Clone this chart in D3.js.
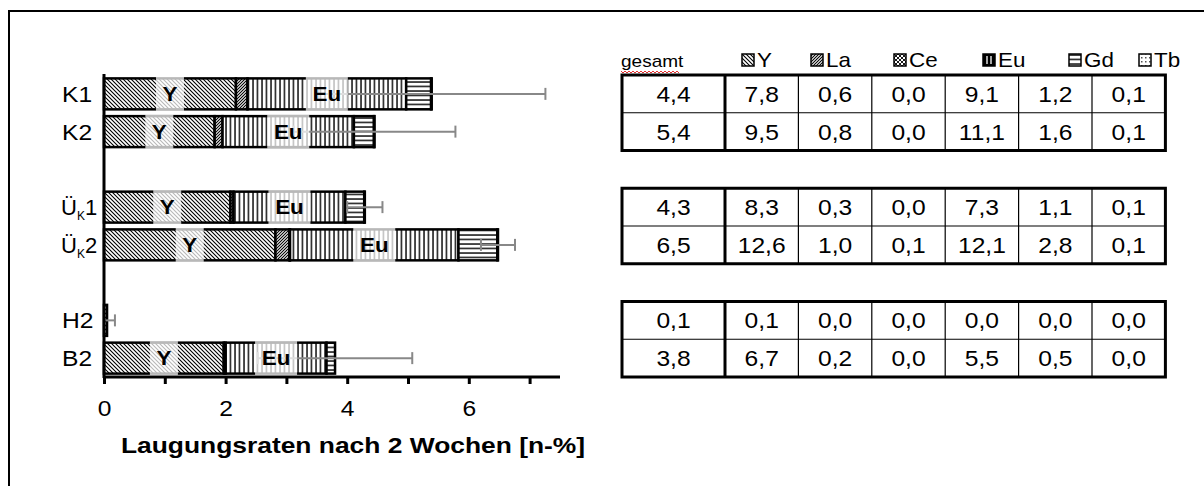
<!DOCTYPE html>
<html lang="de">
<head>
<meta charset="utf-8">
<title>Laugungsraten</title>
<script src="https://d3js.org/d3.v7.min.js"></script>
<style>
  body { margin: 0; background: #fff; }
  svg { display: block; font-family: "Liberation Sans", Arial, sans-serif; }
</style>
</head>
<body>
<script>
// categories of the band axis (gap entries = empty slots between groups)
var categories = ["K1", "K2", "gap1", "UK1", "UK2", "gap2", "H2", "B2"];
var samples = ["K1", "K2", "UK1", "UK2", "H2", "B2"];
var elements = ["Y", "La", "Ce", "Eu", "Gd", "Tb"];

// stacked leaching rates [n-%]
var valY  = [2.17, 1.82, 2.08, 2.82, 0.05, 1.97];
var valLa = [0.19, 0.13, 0.05, 0.23, 0.00, 0.03];
var valCe = [0.00, 0.00, 0.00, 0.01, 0.00, 0.00];
var valEu = [2.61, 2.16, 1.84, 2.77, 0.00, 1.66];
var valGd = [0.41, 0.33, 0.31, 0.64, 0.00, 0.14];
var valTb = [0.01, 0.01, 0.01, 0.01, 0.00, 0.00];
var errors = [1.87, 1.33, 0.29, 0.28, 0.13, 1.27];

// table on the right
var tabGesamt = [4.4, 5.4, 4.3, 6.5, 0.1, 3.8];
var tabY  = [7.8, 9.5, 8.3, 12.6, 0.1, 6.7];
var tabLa = [0.6, 0.8, 0.3, 1.0, 0.0, 0.2];
var tabCe = [0.0, 0.0, 0.0, 0.1, 0.0, 0.0];
var tabEu = [9.1, 11.1, 7.3, 12.1, 0.0, 5.5];
var tabGd = [1.2, 1.6, 1.1, 2.8, 0.0, 0.5];
var tabTb = [0.1, 0.1, 0.1, 0.1, 0.0, 0.0];

var xTicks = [0, 1, 2, 3, 4, 5, 6, 7];
var xTickLabels = ["0", "", "2", "", "4", "", "6", ""];
var axisTitle = "Laugungsraten nach 2 Wochen [n-%]";

var width = 1204, height = 486;
var SX = 1.12;            // text in the picture is a bit stretched
var fontSize = 22;

var svg = d3.select("body").append("svg")
    .attr("width", width)
    .attr("height", height);

// hatch patterns
var defs = svg.append("defs");
function pattern(id, w, h, draw) {
    var p = defs.append("pattern")
        .attr("id", id)
        .attr("patternUnits", "userSpaceOnUse")
        .attr("width", w).attr("height", h);
    p.append("rect").attr("width", w).attr("height", h).attr("fill", "#fff");
    draw(p);
}
pattern("p-Y", 4, 4, function (p) {
    p.append("path").attr("d", "M0,0L4,4M-1,3L1,5M3,-1L5,1")
        .attr("stroke", "#000").attr("stroke-width", 1.1);
});
pattern("p-La", 3, 3, function (p) {
    p.append("path").attr("d", "M0,3L3,0M-1,1L1,-1M2,4L4,2")
        .attr("stroke", "#000").attr("stroke-width", 1.1);
});
pattern("p-Ce", 4, 4, function (p) {
    p.append("path").attr("d", "M0,0L4,4M0,4L4,0")
        .attr("stroke", "#000").attr("stroke-width", 0.9);
});
pattern("p-Eu", 4.5, 4, function (p) {
    p.append("path").attr("d", "M1,0L1,4")
        .attr("stroke", "#000").attr("stroke-width", 1.4);
});
pattern("p-Gd", 4, 4.5, function (p) {
    p.append("path").attr("d", "M0,1L4,1")
        .attr("stroke", "#000").attr("stroke-width", 1.4);
});
pattern("p-Tb", 4, 4, function (p) {
    p.append("rect").attr("x", 1).attr("y", 1).attr("width", 1.5).attr("height", 1.5)
        .attr("fill", "#555");
});

// outer frame (right/bottom run off the picture)
svg.append("rect")
    .attr("x", 9).attr("y", 11)
    .attr("width", 1210).attr("height", 490)
    .attr("fill", "none").attr("stroke", "#000").attr("stroke-width", 2);

// scales
var x = d3.scaleLinear().domain([0, 7.5]).range([104, 560]);
var y = d3.scaleBand().domain(categories).range([75, 377])
    .paddingInner(0.18).paddingOuter(0.09);
var step = y.step(), bw = y.bandwidth();

function fmt(v) { return v.toFixed(1).replace(".", ","); }
function stretched(sel, tx, ty, s) {
    return sel.attr("transform", "translate(" + tx + "," + ty + ") scale(" + (s || SX) + ",1)");
}

// stacked data
var rows = samples.map(function (s, i) {
    return { cat: s, Y: valY[i], La: valLa[i], Ce: valCe[i], Eu: valEu[i], Gd: valGd[i], Tb: valTb[i], err: errors[i] };
});
var series = d3.stack().keys(elements)(rows);

var gBars = svg.append("g");
series.forEach(function (s) {
    gBars.selectAll(null)
        .data(s.filter(function (d) { return d[1] - d[0] > 0; }))
        .enter()
        .append("rect")
        .attr("x", function (d) { return x(d[0]); })
        .attr("y", function (d) { return y(d.data.cat); })
        .attr("width", function (d) { return x(d[1]) - x(d[0]); })
        .attr("height", bw)
        .attr("fill", "url(#p-" + s.key + ")")
        .attr("stroke", "#000")
        .attr("stroke-width", 2.5);
});

// error bars
var totals = rows.map(function (d) { return d.Y + d.La + d.Ce + d.Eu + d.Gd + d.Tb; });
var gErr = svg.append("g").attr("stroke", "#888").attr("stroke-width", 2);
rows.forEach(function (d, i) {
    var cy = y(d.cat) + bw / 2;
    var lo = Math.max(0, totals[i] - d.err), hi = totals[i] + d.err;
    gErr.append("line").attr("x1", x(lo)).attr("x2", x(hi)).attr("y1", cy).attr("y2", cy);
    if (totals[i] - d.err > 0)
        gErr.append("line").attr("x1", x(lo)).attr("x2", x(lo)).attr("y1", cy - 6).attr("y2", cy + 6);
    gErr.append("line").attr("x1", x(hi)).attr("x2", x(hi)).attr("y1", cy - 6).attr("y2", cy + 6);
});

// segment labels (Y and Eu) on a pale box
var labelKeys = ["Y", "Eu"];
var labelBox = { Y: 28, Eu: 42 };
series.filter(function (s) { return labelKeys.indexOf(s.key) >= 0; }).forEach(function (s) {
    s.forEach(function (d) {
        if (d[1] - d[0] < 0.5) return;
        var cx = (x(d[0]) + x(d[1])) / 2, top = y(d.data.cat);
        svg.append("rect")
            .attr("x", cx - labelBox[s.key] / 2).attr("y", top - 1.5)
            .attr("width", labelBox[s.key]).attr("height", bw + 3)
            .attr("fill", "#fff").attr("fill-opacity", 0.72);
        stretched(svg.append("text"), cx, top + bw / 2 + 7)
            .attr("text-anchor", "middle")
            .attr("font-size", 20).attr("font-weight", "bold")
            .text(s.key);
    });
});

// x axis
var xAxis = svg.append("g")
    .attr("transform", "translate(0," + 377 + ")")
    .call(d3.axisBottom(x).tickValues(xTicks)
        .tickFormat(function (d, i) { return xTickLabels[i]; })
        .tickSize(7).tickSizeOuter(0).tickPadding(16));
xAxis.select(".domain").attr("stroke-width", 3).attr("d", "M104,0H560");
xAxis.selectAll(".tick line").attr("stroke-width", 3);
xAxis.selectAll(".tick text")
    .attr("font-size", fontSize)
    .attr("font-family", "Liberation Sans, Arial, sans-serif")
    .attr("transform", "scale(" + SX + ",1)");

// y axis line
svg.append("line")
    .attr("x1", x(0)).attr("x2", x(0))
    .attr("y1", y.range()[0] - 1).attr("y2", y.range()[1] + 1)
    .attr("stroke", "#000").attr("stroke-width", 3);

// category labels
samples.forEach(function (s) {
    var t = svg.append("text").attr("font-size", fontSize);
    if (s.indexOf("UK") === 0) {
        stretched(t, 61, y(s) + bw / 2 + 8, 1.0);
        t.append("tspan").text("Ü");
        t.append("tspan").attr("font-size", 12).attr("dy", 5).text("K");
        t.append("tspan").attr("dy", -5).text(s.slice(2));
    } else {
        stretched(t, 62, y(s) + bw / 2 + 8);
        t.text(s);
    }
});

// axis title
stretched(svg.append("text"), 353, 453, 1.2)
    .attr("text-anchor", "middle")
    .attr("font-size", fontSize).attr("font-weight", "bold")
    .text(axisTitle);

// table
var tabCols = [tabGesamt, tabY, tabLa, tabCe, tabEu, tabGd, tabTb];
var tabLeft = 622, firstW = 103, colW = 73.4;
var colEdge = [tabLeft];
for (var c = 0; c < tabCols.length; c++) colEdge.push(colEdge[c] + (c === 0 ? firstW : colW));
var gTab = svg.append("g");
[[0, 1], [2, 3], [4, 5]].forEach(function (pair) {
    var top = y(samples[pair[0]]) - step * y.paddingInner() / 2;
    var bot = top + 2 * step;
    pair.forEach(function (si, r) {
        var rowTop = top + r * step;
        if (r > 0)
            gTab.append("line").attr("x1", colEdge[0]).attr("x2", colEdge[7])
                .attr("y1", rowTop).attr("y2", rowTop).attr("stroke", "#000").attr("stroke-width", 1.2);
        tabCols.forEach(function (col, ci) {
            stretched(gTab.append("text"), (colEdge[ci] + colEdge[ci + 1]) / 2, rowTop + step / 2 + 8)
                .attr("text-anchor", "middle")
                .attr("font-size", fontSize)
                .text(fmt(col[si]));
        });
    });
    for (var k = 2; k < 7; k++)
        gTab.append("line").attr("x1", colEdge[k]).attr("x2", colEdge[k])
            .attr("y1", top).attr("y2", bot).attr("stroke", "#000").attr("stroke-width", 1.2);
    gTab.append("line").attr("x1", colEdge[1]).attr("x2", colEdge[1])
        .attr("y1", top).attr("y2", bot).attr("stroke", "#000").attr("stroke-width", 3);
    gTab.append("rect").attr("x", colEdge[0]).attr("y", top)
        .attr("width", colEdge[7] - colEdge[0]).attr("height", bot - top)
        .attr("fill", "none").attr("stroke", "#000").attr("stroke-width", 3);
});

// legend above the table
var legendX = [742, 811, 894, 983, 1069, 1139];
var legY = 67;
stretched(svg.append("text"), 621, legY).attr("font-size", 17).text("gesamt");
// spell-check squiggle under "gesamt"
var sq = "M621," + (legY + 4);
for (var q = 0; q < 29; q++) sq += "l2," + (q % 2 ? -2 : 2);
svg.append("path").attr("d", sq).attr("fill", "none").attr("stroke", "#e03030").attr("stroke-width", 1);
elements.forEach(function (e, i) {
    svg.append("rect")
        .attr("x", legendX[i]).attr("y", legY - 13)
        .attr("width", 12).attr("height", 12)
        .attr("fill", e === "Eu" ? "#000" : "url(#p-" + e + ")")
        .attr("stroke", "#000").attr("stroke-width", 1.5);
    if (e === "Eu") {
        svg.append("path")
            .attr("d", "M" + (legendX[i] + 4) + "," + (legY - 11) + "v8M" + (legendX[i] + 8) + "," + (legY - 11) + "v8")
            .attr("stroke", "#fff").attr("stroke-width", 1.3);
    }
    stretched(svg.append("text"), legendX[i] + 15, legY).attr("font-size", 20).text(e);
});
</script>
</body>
</html>
